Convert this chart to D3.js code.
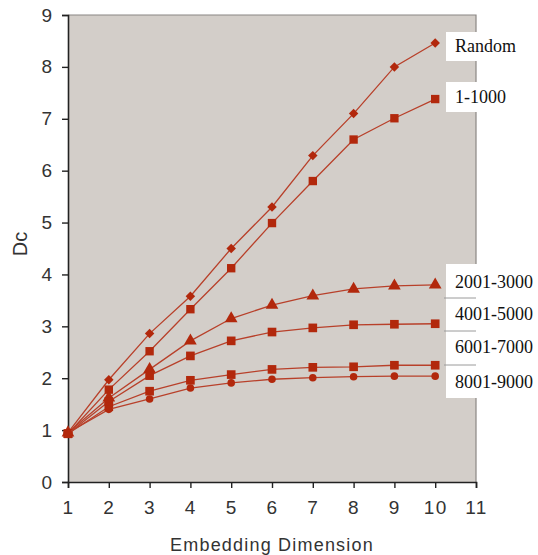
<!DOCTYPE html>
<html>
<head>
<meta charset="utf-8">
<script src="https://cdn.jsdelivr.net/npm/d3@7"></script>
<style>
  body { margin: 0; background: #fff; }
  svg { display: block; }
</style>
</head>
<body>
<svg id="chart" width="538" height="555"></svg>
<script>
// Data
const dims = [1, 2, 3, 4, 5, 6, 7, 8, 9, 10];
const seriesNames = ["Random", "1-1000", "2001-3000", "4001-5000", "6001-7000", "8001-9000"];
const randomVals = [0.95, 1.97, 2.86, 3.58, 4.5, 5.3, 6.29, 7.1, 8.0, 8.46];
const r1000Vals = [0.93, 1.78, 2.52, 3.33, 4.12, 4.99, 5.8, 6.6, 7.01, 7.38];
const r3000Vals = [0.95, 1.62, 2.17, 2.72, 3.15, 3.41, 3.59, 3.72, 3.78, 3.8];
const r5000Vals = [0.93, 1.55, 2.05, 2.43, 2.72, 2.89, 2.97, 3.03, 3.04, 3.05];
const r7000Vals = [0.93, 1.45, 1.75, 1.96, 2.07, 2.17, 2.21, 2.22, 2.25, 2.25];
const r9000Vals = [0.95, 1.4, 1.6, 1.81, 1.91, 1.98, 2.01, 2.03, 2.04, 2.04];
const xTicks = [1, 2, 3, 4, 5, 6, 7, 8, 9, 10, 11];
const yTicks = [0, 1, 2, 3, 4, 5, 6, 7, 8, 9];

const allVals = [randomVals, r1000Vals, r3000Vals, r5000Vals, r7000Vals, r9000Vals];
// diamond = square turned 45 degrees
const shapes = [d3.symbolSquare, d3.symbolSquare, d3.symbolTriangle, d3.symbolSquare, d3.symbolSquare, d3.symbolCircle];
const shapeRot = [45, 0, 0, 0, 0, 0];
const shapeSize = [45, 70, 70, 75, 75, 45];

const svg = d3.select("#chart");
const plotLeft = 68, plotRight = 476, plotTop = 15, plotBottom = 482;
const sans = "Liberation Sans, Arial, sans-serif";

let x = d3.scaleLinear().domain([1, 11]).range([plotLeft, plotRight]);
let y = d3.scaleLinear().domain([0, 9]).range([plotBottom, plotTop]);

// plot area
svg.append("rect")
  .attr("x", plotLeft).attr("y", plotTop)
  .attr("width", plotRight - plotLeft).attr("height", plotBottom - plotTop)
  .attr("fill", "#d3cec9");
svg.append("path")
  .attr("d", `M${plotLeft},${plotTop}H${plotRight}V${plotBottom}`)
  .attr("fill", "none").attr("stroke", "#8a8683").attr("stroke-width", 1.2);

// axes
const xAxis = svg.append("g")
  .attr("transform", `translate(0,${plotBottom})`)
  .call(d3.axisBottom(x).tickValues(xTicks).tickSize(6).tickPadding(13).tickFormat(d3.format("d")));
const yAxis = svg.append("g")
  .attr("transform", `translate(${plotLeft},0)`)
  .call(d3.axisLeft(y).tickValues(yTicks).tickSize(6).tickPadding(10).tickFormat(d3.format("d")));
[xAxis, yAxis].forEach(g => {
  g.select(".domain").attr("stroke", "#222").attr("stroke-width", 1.6);
  g.selectAll(".tick line").attr("stroke", "#222").attr("stroke-width", 1.4);
  g.selectAll("text").attr("font-family", sans)
    .attr("font-size", 19).attr("fill", "#333");
});
xAxis.selectAll("text").attr("letter-spacing", 1.5);

// lines and markers
const line = d3.line().x((d, i) => x(dims[i])).y(d => y(d));
allVals.forEach((vals, k) => {
  svg.append("path")
    .attr("d", line(vals))
    .attr("fill", "none")
    .attr("stroke", "#b8402a")
    .attr("stroke-width", 1.3);
  svg.selectAll(null)
    .data(vals)
    .join("path")
      .attr("transform", (d, i) => `translate(${x(dims[i])},${y(d)}) rotate(${shapeRot[k]})`)
      .attr("d", d3.symbol().type(shapes[k]).size(shapeSize[k]))
      .attr("fill", "#b2280c");
});

// series labels in white boxes at the right
svg.append("rect").attr("x", 446).attr("y", 32).attr("width", 92).attr("height", 29).attr("fill", "#fff");
svg.append("rect").attr("x", 446).attr("y", 82).attr("width", 92).attr("height", 30).attr("fill", "#fff");
svg.append("rect").attr("x", 446).attr("y", 264).attr("width", 92).attr("height", 134).attr("fill", "#fff");
[298, 331, 365].forEach(yy => {
  svg.append("line").attr("x1", 444).attr("x2", 476).attr("y1", yy).attr("y2", yy)
    .attr("stroke", "#9a9a9a").attr("stroke-width", 1);
});
const labelY = [46, 97, 282, 314, 347, 382];
svg.selectAll(".slabel")
  .data(seriesNames)
  .join("text")
    .attr("class", "slabel")
    .attr("x", 455)
    .attr("y", (d, i) => labelY[i])
    .attr("dy", "0.35em")
    .attr("font-family", "Liberation Serif, Times New Roman, serif")
    .attr("font-size", 18)
    .attr("fill", "#111")
    .text(d => d);

// axis titles
svg.append("text")
  .attr("x", 272).attr("y", 551)
  .attr("text-anchor", "middle")
  .attr("font-family", sans)
  .attr("font-size", 18).attr("letter-spacing", 1.2).attr("fill", "#333")
  .text("Embedding Dimension");
svg.append("text")
  .attr("transform", "translate(27,244) rotate(-90)")
  .attr("text-anchor", "middle")
  .attr("font-family", sans)
  .attr("font-size", 20).attr("fill", "#333")
  .text("Dc");
</script>
</body>
</html>
